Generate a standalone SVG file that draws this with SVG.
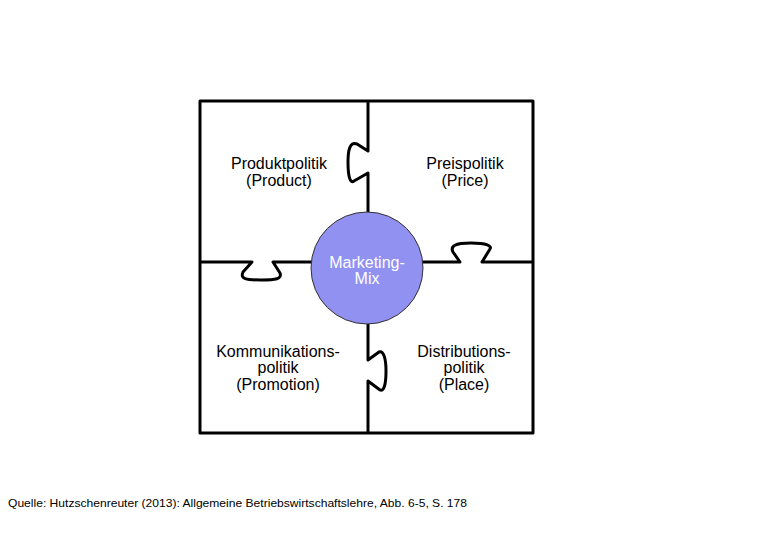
<svg xmlns="http://www.w3.org/2000/svg" width="780" height="540" viewBox="0 0 780 540">
<style>
.ln{fill:none;stroke:#000;stroke-width:3;stroke-linejoin:round}
.t{font-family:"Liberation Sans",Arial,sans-serif;font-size:16px;fill:#000;text-anchor:middle}
.w{fill:#fff}
</style>
<rect width="780" height="540" fill="#fff"/>
<g id="connectors">
<rect class="ln" x="200" y="101" width="333" height="332"/>
<path class="ln" d="M368,101 V151 L357,144 C350,141 348,150 348,162 C348,176 350,184 354,181 L368,173 V268"/>
<path class="ln" d="M200,262 H252 L243,272 C240,279 246,280 261,280 C276,280 282,279 280,273 L273,262 H368"/>
<path class="ln" d="M368,262 H460 L453,252 C450,246 455,243 471,243 C487,243 492,246 490,249 L482,262 H533"/>
<path class="ln" d="M368,268 V360 L379,352 C384,350 386,360 386,371 C386,384 384,392 380,390 L368,381 V433"/>
</g>
<g id="product">
<text class="t" x="279" y="169">Produktpolitik</text>
<text class="t" x="279" y="186">(Product)</text>
</g>
<g id="price">
<text class="t" x="465" y="169">Preispolitik</text>
<text class="t" x="465" y="186">(Price)</text>
</g>
<g id="promotion">
<text class="t" x="278" y="357">Kommunikations-</text>
<text class="t" x="278" y="373">politik</text>
<text class="t" x="278" y="390">(Promotion)</text>
</g>
<g id="place">
<text class="t" x="464" y="357">Distributions-</text>
<text class="t" x="464" y="373">politik</text>
<text class="t" x="464" y="390">(Place)</text>
</g>
<g id="marketing-mix">
<circle cx="367" cy="268" r="56" fill="#9191f2" stroke="#333" stroke-width="1"/>
<text class="t w" x="367" y="268">Marketing-</text>
<text class="t w" x="367" y="284">Mix</text>
</g>
<g id="source">
<text x="8" y="507" font-family="Liberation Sans,Arial,sans-serif" font-size="11.5" textLength="459" lengthAdjust="spacingAndGlyphs">Quelle: Hutzschenreuter (2013): Allgemeine Betriebswirtschaftslehre, Abb. 6-5, S. 178</text>
</g>
</svg>
